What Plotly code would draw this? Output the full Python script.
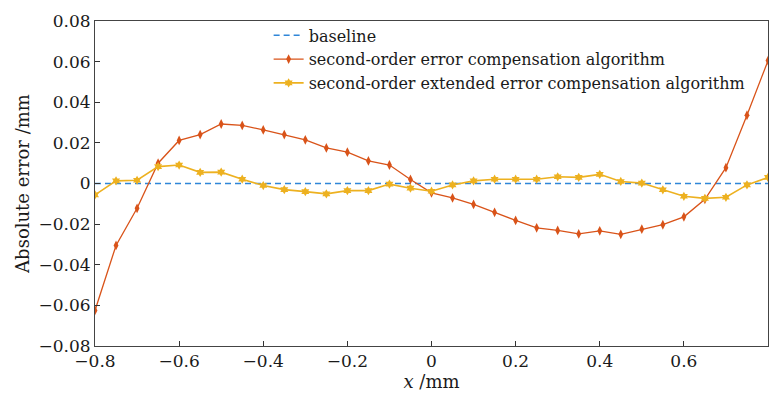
import plotly.graph_objects as go

x_vals = [round(-0.8 + 0.05 * i, 2) for i in range(33)]
baseline = [0.0] * 33
second_order = [-0.0625, -0.0305, -0.0122, 0.0100, 0.0212, 0.0241, 0.0293, 0.0286, 0.0264,
                0.0241, 0.0215, 0.0175, 0.0154, 0.0111, 0.0091, 0.0020, -0.0046, -0.0071,
                -0.0103, -0.0142, -0.0182, -0.0218, -0.0231, -0.0248, -0.0233, -0.0250,
                -0.0225, -0.0203, -0.0164, -0.0078, 0.0078, 0.0336, 0.0605]
extended = [-0.0056, 0.0013, 0.0016, 0.0083, 0.0091, 0.0055, 0.0056, 0.0021, -0.0010,
            -0.0030, -0.0040, -0.0051, -0.0035, -0.0035, -0.0003, -0.0023, -0.0038,
            -0.0007, 0.0013, 0.0021, 0.0021, 0.0021, 0.0033, 0.0030, 0.0045, 0.0010,
            0.0002, -0.0031, -0.0063, -0.0073, -0.0068, -0.0007, 0.0030]

font_family = "DejaVu Serif"

fig = go.Figure()
fig.add_trace(go.Scatter(x=x_vals, y=baseline, mode="lines", name="baseline",
                         line=dict(color="#2F86D8", width=1.5, dash="6px,4px")))
fig.add_trace(go.Scatter(x=x_vals, y=second_order, mode="lines+markers",
                         name="second-order error compensation algorithm",
                         line=dict(color="#D95319", width=1.3),
                         marker=dict(symbol="diamond-tall", size=7, color="#D95319")))
fig.add_trace(go.Scatter(x=x_vals, y=extended, mode="lines+markers",
                         name="second-order extended error compensation algorithm",
                         line=dict(color="#EDB120", width=1.6),
                         marker=dict(symbol="hexagram", size=7, color="#EDB120")))

fig.update_layout(
    width=769, height=398,
    margin=dict(l=95, r=1, t=21, b=52),
    paper_bgcolor="white", plot_bgcolor="white",
    font=dict(family=font_family, size=17, color="#1a1a1a"),
    showlegend=True,
    legend=dict(x=0.258, y=1.008, xanchor="left", yanchor="top",
                bgcolor="rgba(0,0,0,0)", font=dict(size=16),
                tracegroupgap=2, itemwidth=30),
    xaxis=dict(range=[-0.8, 0.8], tickvals=[-0.8, -0.6, -0.4, -0.2, 0, 0.2, 0.4, 0.6, 0.8],
               ticktext=["\u22120.8", "\u22120.6", "\u22120.4", "\u22120.2", "0", "0.2", "0.4", "0.6", "0.8"],
               ticks="inside", ticklen=5, tickcolor="#333", showline=True, linecolor="#444",
               linewidth=1, mirror=True, showgrid=False, zeroline=False,
               title=dict(text="<i>x</i> /mm", standoff=3, font=dict(size=18))),
    yaxis=dict(range=[-0.08, 0.08], tickvals=[-0.08, -0.06, -0.04, -0.02, 0, 0.02, 0.04, 0.06, 0.08],
               ticktext=["\u22120.08", "\u22120.06", "\u22120.04", "\u22120.02", "0", "0.02", "0.04", "0.06", "0.08"],
               ticks="inside", ticklen=5, tickcolor="#333", showline=True, linecolor="#444",
               linewidth=1, mirror=True, showgrid=False, zeroline=False,
               title=dict(text="Absolute error /mm", standoff=4, font=dict(size=18))),
)

fig.write_html("out.html")
